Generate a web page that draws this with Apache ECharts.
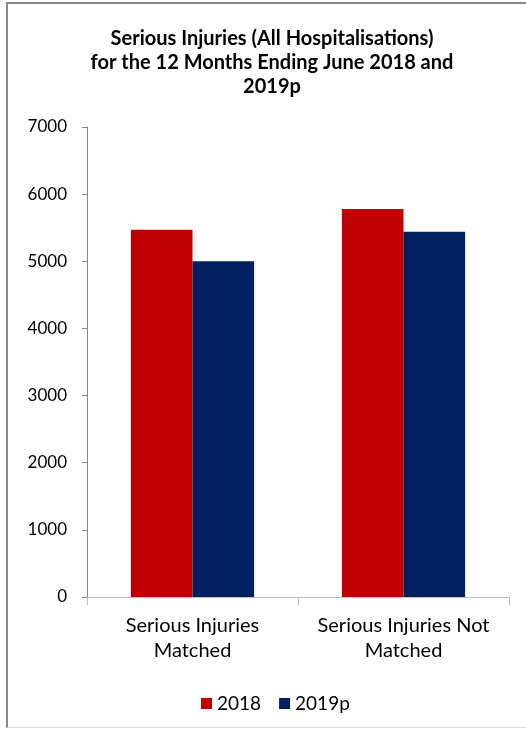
<!DOCTYPE html>
<html>
<head>
<meta charset="utf-8">
<script src="https://cdn.jsdelivr.net/npm/echarts@6/dist/echarts.min.js"></script>
<style>
html,body{margin:0;padding:0;background:#fff;}
#frame{position:absolute;left:6px;top:2px;width:530px;height:726px;border-left:2px solid #8a8a8a;border-top:2px solid #8a8a8a;border-bottom:1px solid #d9d9d9;box-sizing:border-box;}
#chart{position:absolute;left:0;top:0;width:526px;height:731px;}
</style>
</head>
<body>
<div id="frame"></div>
<div id="chart"></div>
<script>
const categories = ['Serious Injuries\nMatched', 'Serious Injuries Not\nMatched'];
const seriesNames = ['2018', '2019p'];
const values2018 = [5470, 5780];
const values2019p = [5000, 5440];
const yTicks = [0, 1000, 2000, 3000, 4000, 5000, 6000, 7000];
const titleText = 'Serious Injuries (All Hospitalisations)\nfor the 12 Months Ending June 2018 and\n2019p';

const font = 'Lato, "Open Sans", sans-serif';
const chart = echarts.init(document.getElementById('chart'), null, {renderer: 'canvas'});
chart.setOption({
  animation: false,
  backgroundColor: 'transparent',
  title: {
    text: titleText,
    left: 267, top: 22, textAlign: 'center',
    textStyle: {fontFamily: font, fontSize: 20, fontWeight: 'bold', color: '#000', lineHeight: 24}
  },
  legend: {
    data: seriesNames,
    top: 689, left: 196,
    itemWidth: 11, itemHeight: 11, itemGap: 18,
    icon: 'rect',
    textStyle: {fontFamily: font, fontSize: 19, color: '#000'}
  },
  grid: {left: 87, right: 17, top: 127, bottom: 134, containLabel: false},
  xAxis: {
    type: 'category',
    data: categories,
    axisLine: {lineStyle: {color: '#bfbfbf', width: 1}},
    axisTick: {show: true, length: 8, lineStyle: {color: '#bfbfbf'}},
    axisLabel: {fontFamily: font, fontSize: 20, color: '#000', lineHeight: 25, margin: 16, interval: 0, hideOverlap: false}
  },
  yAxis: {
    type: 'value',
    min: yTicks[0], max: yTicks[yTicks.length - 1], interval: 1000,
    axisLine: {show: true, lineStyle: {color: '#868686'}},
    axisTick: {show: true, length: 5, lineStyle: {color: '#868686'}},
    splitLine: {show: false},
    axisLabel: {fontFamily: font, fontSize: 17, color: '#000', margin: 20, formatter: v => String(v)}
  },
  series: [
    {name: seriesNames[0], type: 'bar', data: values2018, itemStyle: {color: '#C00000'}, barGap: '0%', barCategoryGap: '41.6%'},
    {name: seriesNames[1], type: 'bar', data: values2019p, itemStyle: {color: '#002060'}, barGap: '0%', barCategoryGap: '41.6%'}
  ]
});
</script>
</body>
</html>
